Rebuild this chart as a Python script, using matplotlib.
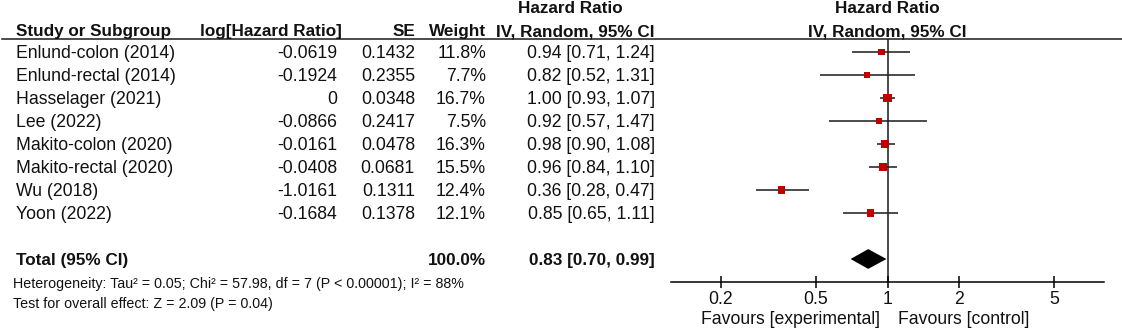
import numpy as np
import matplotlib
matplotlib.use('Agg')
import matplotlib.pyplot as plt
from matplotlib import transforms

studies = ['Enlund-colon (2014)', 'Enlund-rectal (2014)', 'Hasselager (2021)',
           'Lee (2022)', 'Makito-colon (2020)', 'Makito-rectal (2020)',
           'Wu (2018)', 'Yoon (2022)']
log_hr = [-0.0619, -0.1924, 0, -0.0866, -0.0161, -0.0408, -1.0161, -0.1684]
se = [0.1432, 0.2355, 0.0348, 0.2417, 0.0478, 0.0681, 0.1311, 0.1378]
weight = [11.8, 7.7, 16.7, 7.5, 16.3, 15.5, 12.4, 12.1]
hr = [0.94, 0.82, 1.00, 0.92, 0.98, 0.96, 0.36, 0.85]
ci_lo = [0.71, 0.52, 0.93, 0.57, 0.90, 0.84, 0.28, 0.65]
ci_hi = [1.24, 1.31, 1.07, 1.47, 1.08, 1.10, 0.47, 1.11]
total_hr, total_lo, total_hi = 0.83, 0.70, 0.99
x_ticks = [0.2, 0.5, 1, 2, 5]
x_ticklabels = ['0.2', '0.5', '1', '2', '5']
heterogeneity = 'Heterogeneity: Tau\u00b2 = 0.05; Chi\u00b2 = 57.98, df = 7 (P < 0.00001); I\u00b2 = 88%'
overall = 'Test for overall effect: Z = 2.09 (P = 0.04)'

plt.rcParams['font.family'] = ['Liberation Sans', 'DejaVu Sans']
FS = 12.7      # body text
FSB = 12.3     # bold headers
TXT = '#111111'
RED = '#c00000'
W, H = 1122, 332
dy = 0.08      # nudge body text down a touch to sit on the row

fig = plt.figure(figsize=(W / 100, H / 100), dpi=100)
# forest panel: x 671..1104 px, y 39..282 px
ax = fig.add_axes([671 / W, (H - 282) / H, 433 / W, 243 / H])
rows = np.arange(len(studies))
total_row = len(studies) + 1
ax.set_xscale('log')
ax.set_xlim(1 / 8.1, 8.1)
ax.set_ylim(10, -0.565)

ax.hlines(rows, ci_lo, ci_hi, color='#1a1a1a', lw=1.1, zorder=2)
sizes = (1.45 * np.sqrt(weight)) ** 2
ax.scatter(hr, rows, marker='s', s=sizes, color=RED, linewidths=0, zorder=3)
ax.fill([total_lo, total_hr, total_hi, total_hr],
        [total_row, total_row - 0.43, total_row, total_row + 0.43],
        color='black', lw=0, zorder=3)
ax.axvline(1, color='#1a1a1a', lw=1.1, zorder=1)

for s in ['top', 'right', 'left']:
    ax.spines[s].set_visible(False)
ax.spines['bottom'].set_linewidth(1.1)
ax.set_yticks([])
ax.set_xticks(x_ticks)
ax.set_xticklabels(x_ticklabels, fontsize=FS, color=TXT)
ax.minorticks_off()
ax.tick_params(axis='x', direction='inout', length=9, width=1.1, pad=2)

# column table, x in figure pixels, y in rows
tr = transforms.blended_transform_factory(
    transforms.Affine2D().scale(1 / W, 1) + fig.transFigure, ax.transData)

hdr = dict(fontsize=FSB, fontweight='bold', color=TXT, va='center', transform=tr)
ax.text(16, -0.89, 'Study or Subgroup', ha='left', **hdr)
ax.text(342, -0.89, 'log[Hazard Ratio]', ha='right', **hdr)
ax.text(415, -0.89, 'SE', ha='right', **hdr)
ax.text(486, -0.89, 'Weight', ha='right', **hdr)
ax.text(570, -1.87, 'Hazard Ratio', ha='center', **hdr)
ax.text(655, -0.89, 'IV, Random, 95% CI', ha='right', **hdr)
ax.text(1, -1.87, 'Hazard Ratio', ha='center', fontsize=FSB,
        fontweight='bold', color=TXT, va='center')
ax.text(1, -0.89, 'IV, Random, 95% CI', ha='center', fontsize=FSB,
        fontweight='bold', color=TXT, va='center')
ax.plot([2, W], [-0.565, -0.565], transform=tr, color='#1a1a1a', lw=1.1,
        clip_on=False)

body = dict(fontsize=FS, color=TXT, va='center', transform=tr)
for i in rows:
    y = i + dy
    ax.text(16, y, studies[i], ha='left', **body)
    ax.text(337, y, '{:g}'.format(log_hr[i]), ha='right', **body)
    ax.text(415, y, '{:.4f}'.format(se[i]), ha='right', **body)
    ax.text(486, y, '{:.1f}%'.format(weight[i]), ha='right', **body)
    ax.text(655, y, '{:.2f} [{:.2f}, {:.2f}]'.format(hr[i], ci_lo[i], ci_hi[i]),
            ha='right', **body)

ax.text(16, total_row + dy, 'Total (95% CI)', ha='left', **hdr)
ax.text(486, total_row + dy, '{:.1f}%'.format(sum(weight)), ha='right', **hdr)
ax.text(655, total_row + dy,
        '{:.2f} [{:.2f}, {:.2f}]'.format(total_hr, total_lo, total_hi),
        ha='right', **hdr)

small = dict(fontsize=10.3, color=TXT, va='center', transform=tr)
ax.text(13, 10 + dy, heterogeneity, ha='left', **small)
ax.text(13, 10.87 + dy, overall, ha='left', **small)

ax.text(0.928, 11.64, 'Favours [experimental]', ha='right', va='center',
        fontsize=FS, color=TXT)
ax.text(1.105, 11.64, 'Favours [control]', ha='left', va='center',
        fontsize=FS, color=TXT)

fig.savefig('out.png', dpi=100)
